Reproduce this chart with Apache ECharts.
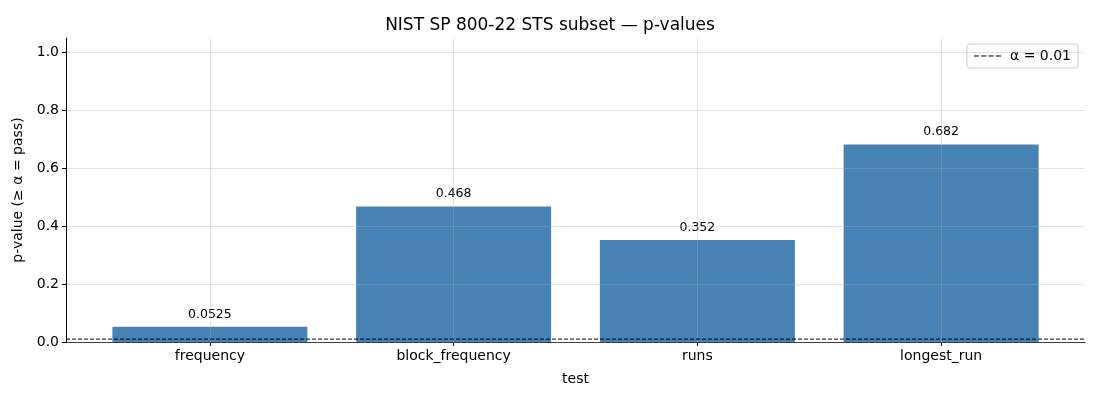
<!DOCTYPE html>
<html>
<head>
<meta charset="utf-8">
<script src="https://cdn.jsdelivr.net/npm/echarts@6/dist/echarts.min.js"></script>
<style>html,body{margin:0;padding:0;background:#fff}#main{width:1100px;height:400px}</style>
</head>
<body>
<div id="main"></div>
<script>
// 数据
var tests = ['frequency', 'block_frequency', 'runs', 'longest_run']
var pValues = [0.0525, 0.468, 0.352, 0.682]
var pLabels = ['0.0525', '0.468', '0.352', '0.682']
var alpha = 0.01

var myChart = echarts.init(document.getElementById('main'))
var font = 'DejaVu Sans'
var gridCol = 'rgba(176,176,176,0.35)'
var dashIcon = 'path://M0,0H5V1H0Z M7,0H12V1H7Z M14,0H19V1H14Z M21,0H26V1H21Z'

var option = {
  animation: false,
  textStyle: { fontFamily: font },
  title: {
    text: 'NIST SP 800-22 STS subset — p-values',
    left: 'center', top: 12,
    textStyle: { fontFamily: font, fontSize: 17, fontWeight: 'normal', color: '#000' }
  },
  legend: {
    data: [{ name: 'α = ' + alpha, icon: dashIcon }],
    right: 22, top: 44,
    padding: [5, 7, 5, 7],
    itemWidth: 27, itemHeight: 1.5, itemGap: 8,
    borderColor: '#ccc', borderWidth: 1, borderRadius: 3,
    itemStyle: { color: '#000' },
    textStyle: { fontFamily: font, fontSize: 14, color: '#000', padding: [0, 0, 0, 4] }
  },
  grid: [
    { left: 66, right: 15, top: 38, bottom: 58 },
    { left: 88, right: 37, top: 38, bottom: 58 },
    { left: 210, right: 159, top: 38, bottom: 58 }
  ],
  xAxis: [
    {
      gridIndex: 0, type: 'value', min: 0, max: 1,
      axisLine: { show: true, onZero: false, lineStyle: { color: '#000', width: 1 } },
      axisTick: { show: false }, axisLabel: { show: false }, splitLine: { show: false },
      name: 'test', nameLocation: 'middle', nameGap: 30,
      nameTextStyle: { fontFamily: font, fontSize: 14, color: '#000' }
    },
    {
      gridIndex: 1, type: 'category', data: tests,
      axisLine: { show: false },
      axisTick: { show: true, alignWithLabel: true, length: 4, lineStyle: { color: '#000' } },
      axisLabel: { fontFamily: font, fontSize: 14, color: '#000', margin: 7 },
      splitLine: { show: false }
    },
    {
      gridIndex: 2, type: 'value', min: 0, max: 3, interval: 1,
      axisLine: { show: false }, axisTick: { show: false }, axisLabel: { show: false },
      splitLine: { show: true, lineStyle: { color: gridCol } },
      z: 5
    }
  ],
  yAxis: [
    {
      gridIndex: 0, type: 'value', min: 0, max: 1.05, interval: 0.2,
      axisLine: { show: true, lineStyle: { color: '#000', width: 1 } },
      axisTick: { show: true, length: 4, lineStyle: { color: '#000' } },
      axisLabel: {
        fontFamily: font, fontSize: 14, color: '#000', showMaxLabel: false, margin: 7,
        formatter: function (v) { return v.toFixed(1) }
      },
      splitLine: { show: true, showMaxLine: false, lineStyle: { color: gridCol } },
      name: 'p-value (≥ α = pass)', nameLocation: 'middle', nameGap: 38,
      nameTextStyle: { fontFamily: font, fontSize: 14, color: '#000' },
      z: 5
    },
    {
      gridIndex: 1, type: 'value', min: 0, max: 1.05, interval: 0.2, show: false
    },
    {
      gridIndex: 2, type: 'value', min: 0, max: 1.05, show: false
    }
  ],
  series: [
    {
      type: 'bar', xAxisIndex: 1, yAxisIndex: 1,
      data: pValues,
      barWidth: '80%',
      itemStyle: { color: '#4682b4' },
      label: {
        show: true, position: 'top', distance: 6,
        fontFamily: font, fontSize: 12.5, color: '#000',
        formatter: function (p) { return pLabels[p.dataIndex] }
      },
      z: 2
    },
    {
      name: 'α = ' + alpha,
      type: 'line', xAxisIndex: 0, yAxisIndex: 0,
      data: [[0, alpha], [1, alpha]],
      symbol: 'none',
      lineStyle: { color: '#000', width: 1, type: [4, 2] },
      itemStyle: { color: '#000' },
      z: 6
    }
  ]
}

myChart.setOption(option)
</script>
</body>
</html>
